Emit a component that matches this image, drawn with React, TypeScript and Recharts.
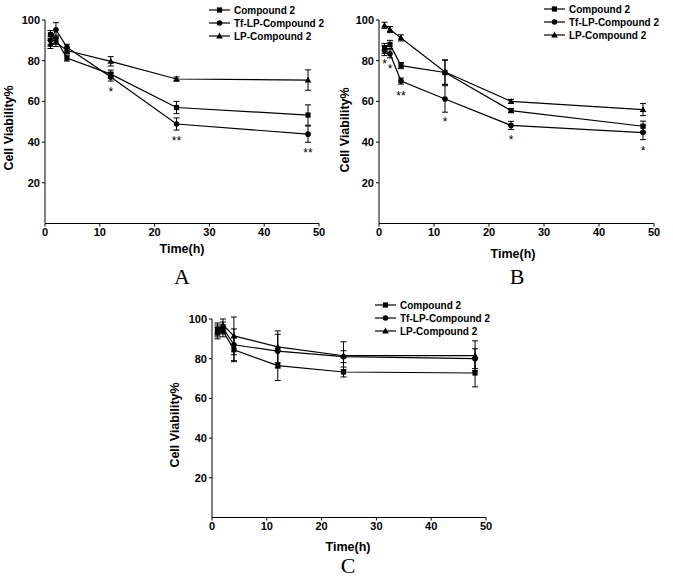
import React from 'react';
import { LineChart, Line, XAxis, YAxis, ErrorBar } from 'recharts';

const times = [1, 2, 4, 12, 24, 48];
const seriesNames = ['Compound 2', 'Tf-LP-Compound 2', 'LP-Compound 2'];
const xTicks = [0, 10, 20, 30, 40, 50];
const yTicks = [20, 40, 60, 80, 100];
const yAxisTitle = 'Cell Viability%';
const xAxisTitle = 'Time(h)';

// Panel A
const aCompound = [92.8, 90.5, 81.3, 73.4, 57, 53.3];
const aCompoundErr = [2, 2, 1.5, 2, 3, 5];
const aTf = [90, 95.2, 86.6, 72, 48.9, 43.9];
const aTfErr = [2, 3.5, 1.5, 2, 3, 4];
const aLp = [88, 89, 85, 79.7, 71, 70.5];
const aLpErr = [2, 2, 1.5, 2.3, 1, 5];
const aSig = ['', '', '', '*', '**', '**'];
const aSigY = [null, null, null, 66, 42, 36];

// Panel B
const bCompound = [86, 88, 77.6, 74.2, 55.5, 47.8];
const bCompoundErr = [2.5, 2, 1.5, 6, 1, 2.5];
const bTf = [85, 83.4, 70, 61.2, 48.2, 44.7];
const bTfErr = [2.5, 2, 1.5, 6.5, 2, 3.5];
const bLp = [97.4, 95.3, 91.2, 74.4, 60, 56];
const bLpErr = [1.5, 1.5, 1.5, 6, 1, 3];
const bSig = ['*', '*', '**', '*', '*', '*'];
const bSigY = [80, 77.6, 64.3, 51.3, 42.4, 37.2];

// Panel C
const cCompound = [93, 94, 84.5, 76.5, 73.3, 72.8];
const cCompoundErr = [3, 3, 6, 7.5, 2.5, 7];
const cTf = [95, 95.5, 87, 83.8, 81, 80];
const cTfErr = [3, 3, 8, 8.5, 3, 5];
const cLp = [94, 97, 91.5, 86, 81.5, 81.5];
const cLpErr = [3, 3, 9.5, 8, 7, 7.5];
const cSig = ['', '', '', '', '', ''];
const cSigY = [null, null, null, null, null, null];

const FONT = '"Liberation Sans", Arial, sans-serif';
const SERIF = '"Liberation Serif", "Times New Roman", serif';

type Kind = 'square' | 'circle' | 'triangle';
const kinds: Kind[] = ['square', 'circle', 'triangle'];

function marker(kind: Kind, cx: number, cy: number, key?: string) {
  if (kind === 'square') return <rect key={key} x={cx - 2.6} y={cy - 2.6} width={5.2} height={5.2} fill="#000" />;
  if (kind === 'circle') return <circle key={key} cx={cx} cy={cy} r={2.8} fill="#000" />;
  return <path key={key} d={`M${cx},${cy - 3.4} L${cx + 3.3},${cy + 2.4} L${cx - 3.3},${cy + 2.4} Z`} fill="#000" />;
}

function makeDot(kind: Kind) {
  return (p: any) => {
    const k = `${kind}-${p.index}`;
    if (p.cx == null || p.cy == null || p.value == null) return <g key={k} />;
    return marker(kind, p.cx, p.cy, k);
  };
}

const sigDot = (p: any) => {
  const k = `sig-${p.index}`;
  if (p.cx == null || p.cy == null || p.value == null || !p.payload.sig) return <g key={k} />;
  return (
    <text key={k} x={p.cx} y={p.cy + 7} textAnchor="middle" fontFamily={FONT} fontSize={12} fill="#000">
      {p.payload.sig}
    </text>
  );
};

type Pt = { x: number; y: number };
type PanelProps = {
  plotLeft: number; plotTop: number; plotW: number; plotH: number;
  compound: number[]; compoundErr: number[];
  tf: number[]; tfErr: number[];
  lp: number[]; lpErr: number[];
  sig: string[]; sigY: (number | null)[];
  letter: string;
  yLabel: Pt; xLabel: Pt; letterBaseline: Pt; legend: Pt;
};

function Panel(props: PanelProps) {
  const { plotLeft, plotTop, plotW, plotH } = props;
  const data = times.map((t, i) => ({
    t,
    compound: props.compound[i], compoundErr: props.compoundErr[i],
    tf: props.tf[i], tfErr: props.tfErr[i],
    lp: props.lp[i], lpErr: props.lpErr[i],
    sig: props.sig[i], sigY: props.sigY[i],
  }));
  const yW = 45;
  const xH = 25;
  const margin = { top: 15, right: 25, bottom: 0, left: 0 };
  const tickStyle = { fontFamily: FONT, fontSize: 11, fontWeight: 'bold' as const, fill: '#000' };
  const keys = ['compound', 'tf', 'lp'];
  return (
    <>
      <div style={{ position: 'absolute', left: plotLeft - yW, top: plotTop - margin.top }}>
        <LineChart width={plotW + yW + margin.right} height={plotH + margin.top + xH} data={data} margin={margin}>
          <XAxis
            dataKey="t" type="number" domain={[0, 50]} ticks={xTicks} allowDataOverflow
            height={xH} stroke="#000" tickSize={3} tickMargin={2} tick={tickStyle} interval={0}
          />
          <YAxis
            type="number" domain={[0, 100]} ticks={yTicks} allowDataOverflow
            width={yW} stroke="#000" tickSize={3} tickMargin={2} tick={tickStyle} interval={0}
          />
          {keys.map((k, i) => (
            <Line
              key={k} dataKey={k} stroke="#000" strokeWidth={1.2} isAnimationActive={false}
              dot={makeDot(kinds[i])} activeDot={false}
            >
              <ErrorBar dataKey={`${k}Err`} width={3} stroke="#000" strokeWidth={1} direction="y" />
            </Line>
          ))}
          <Line dataKey="sigY" stroke="none" isAnimationActive={false} dot={sigDot} activeDot={false} />
        </LineChart>
      </div>
      <div style={{ position: 'absolute', left: props.legend.x, top: props.legend.y, fontFamily: FONT, fontSize: 10, fontWeight: 'bold', color: '#000' }}>
        {seriesNames.map((n, i) => (
          <div key={n} style={{ display: 'flex', alignItems: 'center', height: 13, whiteSpace: 'nowrap' }}>
            <svg width={21} height={10} style={{ display: 'block', marginRight: 4 }}>
              <line x1={0} y1={5} x2={21} y2={5} stroke="#000" strokeWidth={1.2} />
              {marker(kinds[i], 10.5, 5)}
            </svg>
            <span>{n}</span>
          </div>
        ))}
      </div>
      <div style={{ position: 'absolute', left: props.yLabel.x, top: props.yLabel.y, transform: 'translate(-50%, -50%) rotate(-90deg)', fontFamily: FONT, fontSize: 12.5, fontWeight: 'bold', whiteSpace: 'nowrap', color: '#000' }}>
        {yAxisTitle}
      </div>
      <div style={{ position: 'absolute', left: props.xLabel.x, top: props.xLabel.y, transform: 'translate(-50%, -50%)', fontFamily: FONT, fontSize: 12.5, fontWeight: 'bold', whiteSpace: 'nowrap', color: '#000' }}>
        {xAxisTitle}
      </div>
      <div style={{ position: 'absolute', left: props.letterBaseline.x, top: props.letterBaseline.y - 15.4, transform: 'translateX(-50%)', fontFamily: SERIF, fontSize: 22, lineHeight: '16px', color: '#000' }}>
        {props.letter}
      </div>
    </>
  );
}

export default function App() {
  return (
    <div style={{ position: 'absolute', left: 0, top: 0, width: 673, height: 579, background: '#fff', overflow: 'hidden' }}>
      <Panel
        plotLeft={45} plotTop={19.5} plotW={274} plotH={203.5}
        compound={aCompound} compoundErr={aCompoundErr} tf={aTf} tfErr={aTfErr} lp={aLp} lpErr={aLpErr}
        sig={aSig} sigY={aSigY} letter="A"
        yLabel={{ x: 9, y: 128 }} xLabel={{ x: 182, y: 249 }} letterBaseline={{ x: 182, y: 284.5 }} legend={{ x: 209, y: 3.5 }}
      />
      <Panel
        plotLeft={379.3} plotTop={20} plotW={275} plotH={203.5}
        compound={bCompound} compoundErr={bCompoundErr} tf={bTf} tfErr={bTfErr} lp={bLp} lpErr={bLpErr}
        sig={bSig} sigY={bSigY} letter="B"
        yLabel={{ x: 345, y: 130 }} xLabel={{ x: 513, y: 254 }} letterBaseline={{ x: 517, y: 284.5 }} legend={{ x: 544, y: 2.5 }}
      />
      <Panel
        plotLeft={211.7} plotTop={319} plotW={274} plotH={198.5}
        compound={cCompound} compoundErr={cCompoundErr} tf={cTf} tfErr={cTfErr} lp={cLp} lpErr={cLpErr}
        sig={cSig} sigY={cSigY} letter="C"
        yLabel={{ x: 175, y: 425 }} xLabel={{ x: 348, y: 547 }} letterBaseline={{ x: 348, y: 573.5 }} legend={{ x: 375, y: 298.5 }}
      />
    </div>
  );
}
